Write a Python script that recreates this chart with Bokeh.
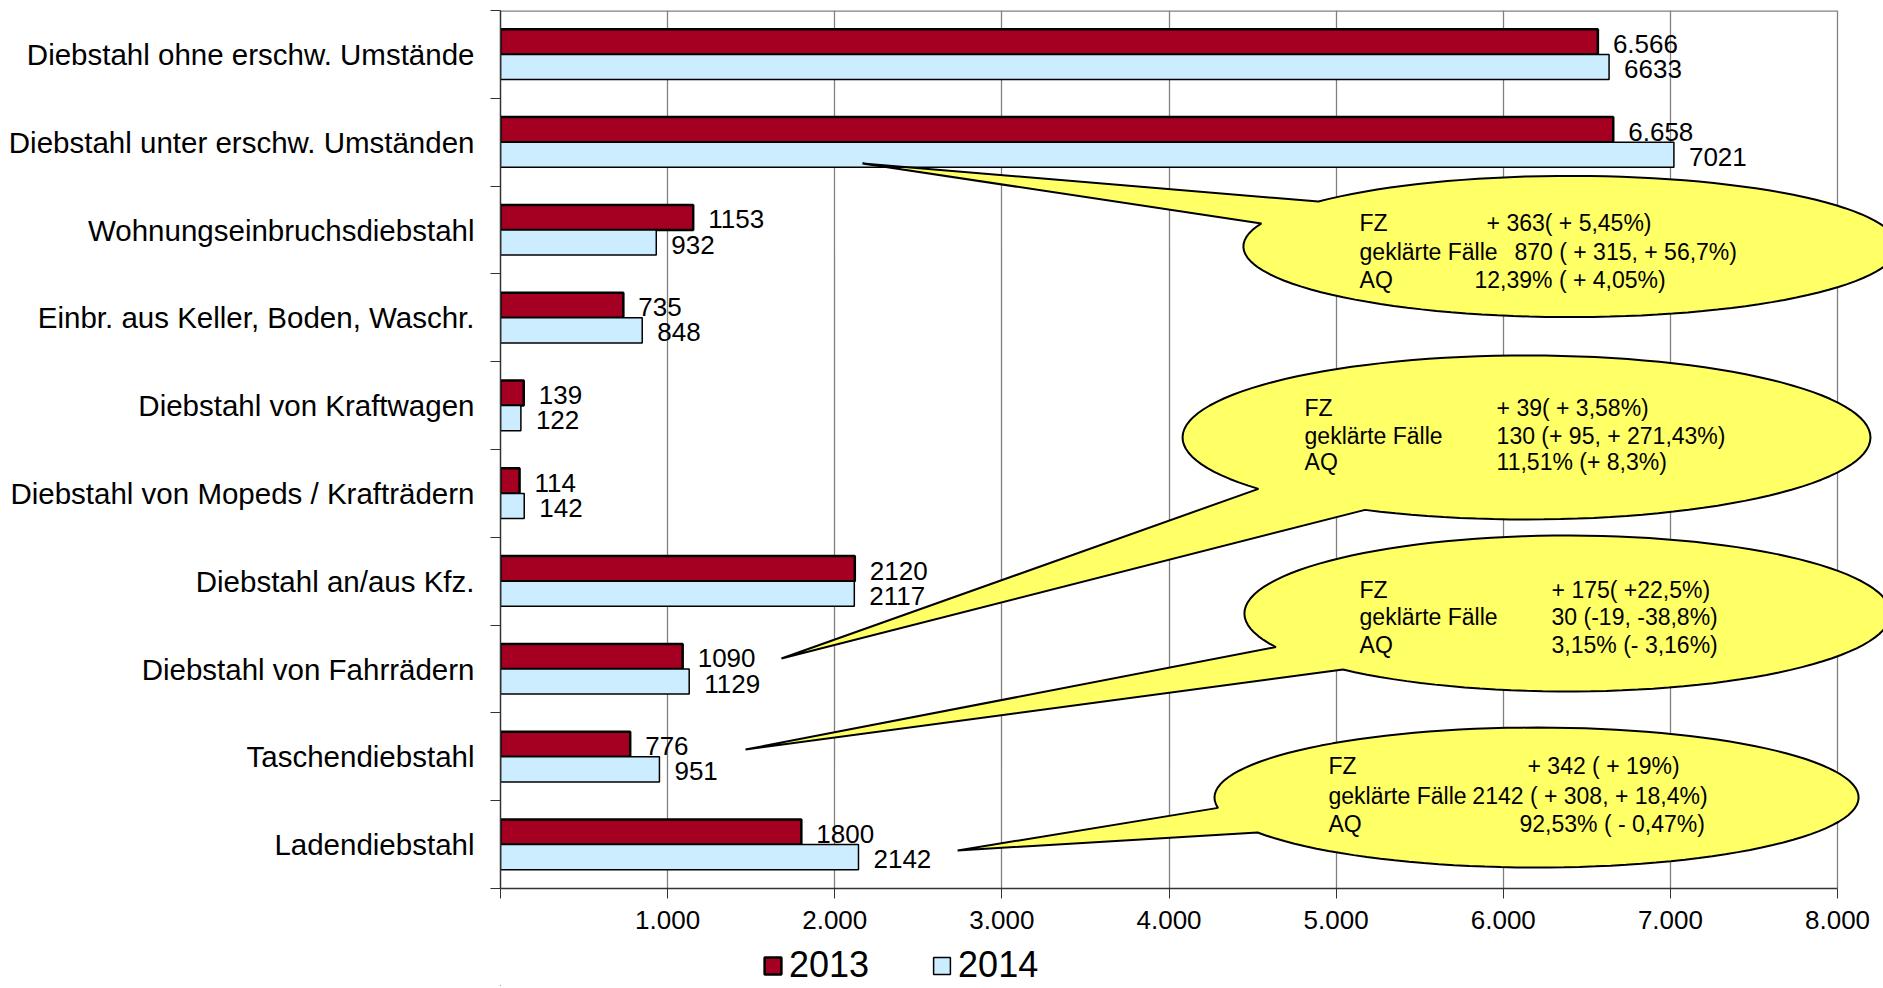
import math
from bokeh.plotting import figure
from bokeh.layouts import column
from bokeh.models import Range1d, FixedTicker, Legend, LegendItem, ColumnDataSource
from bokeh.transform import dodge
from bokeh.core.properties import value
from bokeh.embed import file_html
from bokeh.resources import INLINE

# ---------------- data ----------------
categories = [
    "Diebstahl ohne erschw. Umstände",
    "Diebstahl unter erschw. Umständen",
    "Wohnungseinbruchsdiebstahl",
    "Einbr. aus Keller, Boden, Waschr.",
    "Diebstahl von Kraftwagen",
    "Diebstahl von Mopeds / Krafträdern",
    "Diebstahl an/aus Kfz.",
    "Diebstahl von Fahrrädern",
    "Taschendiebstahl",
    "Ladendiebstahl",
]
v2013 = [6566, 6658, 1153, 735, 139, 114, 2120, 1090, 776, 1800]
v2014 = [6633, 7021, 932, 848, 122, 142, 2117, 1129, 951, 2142]
lbl2013 = ["6.566", "6.658", "1153", "735", "139", "114", "2120", "1090", "776", "1800"]
lbl2014 = ["6633", "7021", "932", "848", "122", "142", "2117", "1129", "951", "2142"]
years = ["2013", "2014"]
x_ticks = [0, 1000, 2000, 3000, 4000, 5000, 6000, 7000, 8000]
x_tick_labels = ["", "1.000", "2.000", "3.000", "4.000", "5.000", "6.000", "7.000", "8.000"]

callout_labels = ["FZ", "geklärte Fälle", "AQ"]
callout_values = [
    ["+ 363( + 5,45%)", "870 ( + 315, + 56,7%)", "12,39%  ( + 4,05%)"],
    ["+ 39( + 3,58%)", "130 (+ 95, + 271,43%)", "11,51% (+ 8,3%)"],
    ["+ 175( +22,5%)", "30 (-19, -38,8%)", "3,15% (- 3,16%)"],
    ["+ 342 ( + 19%)", "2142 ( + 308, + 18,4%)", "92,53%  ( - 0,47%)"],
]

# ---------------- layout of callouts (data units) ----------------
# cx, cy, a, b, theta1, theta2, tip_x, tip_y
callout_geom = [
    (6402, 7.812, 1957, 0.804, 140.4, 160.9, 2166, 8.757),
    (6139, 5.637, 2058, 0.934, 218.8, 242.0, 1681, 3.120),
    (6384, 3.632, 1933, 0.888, 205.5, 226.0, 1466, 2.083),
    (6199, 1.536, 1927, 0.797, 188.5, 210.0, 2735, 0.933),
]
# label x, value x per line, line ys
callout_text_pos = [
    (5140, [5900, 6067, 5828], [8.085, 7.755, 7.425]),
    (4811, [5960, 5960, 5960], [5.967, 5.659, 5.352]),
    (5140, [6289, 6289, 6289], [3.905, 3.587, 3.268]),
    (4954, [6145, 5815, 6097], [1.890, 1.559, 1.229]),
]

FONT = "Liberation Sans"
n = len(categories)
pos = list(range(n, 0, -1))

p = figure(width=1883, height=939,
           x_range=Range1d(0, 8275), y_range=Range1d(0.5, 10.5),
           output_backend="svg", toolbar_location=None,
           min_border_left=500, min_border_right=0, min_border_top=10, min_border_bottom=51)
p.outline_line_color = None
p.background_fill_color = "white"
p.border_fill_color = "white"

p.xgrid.ticker = FixedTicker(ticks=x_ticks)
p.xgrid.grid_line_color = "#808080"
p.xgrid.grid_line_width = 1.3
p.ygrid.grid_line_color = None

xa = p.xaxis[0]
xa.ticker = FixedTicker(ticks=x_ticks)
xa.major_label_overrides = {t: l for t, l in zip(x_ticks, x_tick_labels)}
xa.bounds = (0, 8000)
xa.axis_line_color = "#333333"
xa.axis_line_width = 1.5
xa.major_tick_out = 10
xa.major_tick_in = 0
xa.minor_tick_out = 0
xa.minor_tick_in = 0
xa.major_tick_line_color = "#333333"
xa.major_label_text_font = FONT
xa.major_label_text_font_size = "26px"
xa.major_label_text_color = "black"
xa.major_label_standoff = 12

ya = p.yaxis[0]
ya.ticker = FixedTicker(ticks=pos, minor_ticks=[i + 0.5 for i in range(n + 1)])
ya.major_label_overrides = {pp: c for pp, c in zip(pos, categories)}
ya.axis_line_color = "#333333"
ya.axis_line_width = 1.5
ya.major_tick_out = 0
ya.major_tick_in = 0
ya.minor_tick_out = 10
ya.minor_tick_in = 0
ya.minor_tick_line_color = "#333333"
ya.major_label_text_font = FONT
ya.major_label_text_font_size = "29.5px"
ya.major_label_text_color = "black"
ya.major_label_standoff = 16

# top border of plot area
p.segment(x0=[0], y0=[10.5], x1=[8000], y1=[10.5], line_color="#808080", line_width=2.6)

src = ColumnDataSource(dict(pos=pos, v13=v2013, v14=v2014, l13=lbl2013, l14=lbl2014))
bar_h = 0.286
style13 = dict(fill_color="#A50021", line_color="black", line_width=2.5)
style14 = dict(fill_color="#CCECFF", line_color="black", line_width=1.5)
p.hbar(y=dodge("pos", bar_h / 2), left=0, right="v13", height=bar_h, source=src, **style13)
p.hbar(y=dodge("pos", -bar_h / 2), left=0, right="v14", height=bar_h, source=src, **style14)

for fld, lf, off in (("v13", "l13", bar_h / 2), ("v14", "l14", -bar_h / 2)):
    p.text(x=fld, y=dodge("pos", off), text=lf, source=src, x_offset=15, y_offset=2,
           text_font=value(FONT), text_font_size="26px", text_baseline="middle",
           text_align="left", text_color="black")

# callouts
xs, ys = [], []
for cx, cy, a, b, t1, t2, tx, ty in callout_geom:
    px, py = [], []
    steps = 120
    start, end = t2, t1 + 360
    for k in range(steps + 1):
        t = math.radians(start + (end - start) * k / steps)
        px.append(cx + a * math.cos(t))
        py.append(cy + b * math.sin(t))
    px.append(tx)
    py.append(ty)
    xs.append(px)
    ys.append(py)
p.patches(xs=xs, ys=ys, fill_color="#FFFF66", line_color="black", line_width=2)

tx_l, ty_l, tt_l = [], [], []
for ci, (lx, vxs, lys) in enumerate(callout_text_pos):
    for li in range(3):
        tx_l += [lx, vxs[li]]
        ty_l += [lys[li], lys[li]]
        tt_l += [callout_labels[li], callout_values[ci][li]]
p.text(x=tx_l, y=ty_l, text=tt_l, text_font=value(FONT), text_font_size="23px",
       text_baseline="middle", text_align="left", text_color="black")

# legend strip below the chart
p2 = figure(width=1883, height=47, x_range=Range1d(0, 1000), y_range=Range1d(0, 47),
            x_axis_type=None, y_axis_type=None,
            output_backend="svg", toolbar_location=None,
            min_border_left=0, min_border_right=0, min_border_top=0, min_border_bottom=0)
p2.grid.visible = False
p2.outline_line_color = None
p2.background_fill_color = "white"
p2.border_fill_color = "white"
g13 = p2.hbar(y=[-500], left=[-500], right=[-400], height=1, **style13)
g14 = p2.hbar(y=[-500], left=[-500], right=[-400], height=1, **style14)
legend = Legend(items=[LegendItem(label=years[0], renderers=[g13]),
                       LegendItem(label=years[1], renderers=[g14])],
                orientation="horizontal", location=(262, 0),
                label_text_font=FONT, label_text_font_size="36px", label_text_color="black",
                glyph_width=21, glyph_height=21, label_standoff=6, spacing=62,
                padding=0, margin=0, border_line_color=None, background_fill_alpha=0)
p2.add_layout(legend)

open("out.html", "w").write(file_html(column(p, p2, spacing=0), INLINE))
